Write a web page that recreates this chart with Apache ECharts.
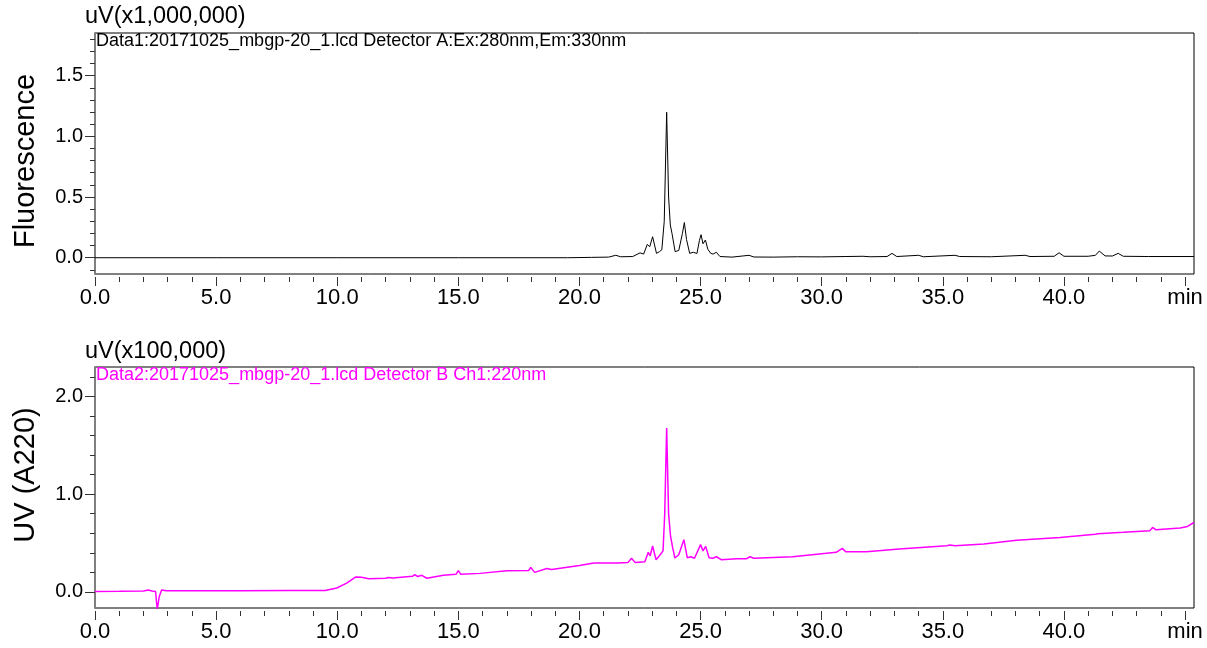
<!DOCTYPE html>
<html>
<head>
<meta charset="utf-8">
<title>Chromatogram 20171025_mbgp-20_1</title>
<script src="https://cdn.jsdelivr.net/npm/echarts@6/dist/echarts.min.js"></script>
<style>
  html, body { margin: 0; padding: 0; background: #fff; }
  #chart { width: 1207px; height: 648px; }
</style>
</head>
<body>
<div id="chart"></div>
<script>
// Retention time axis (min)
const timeMax = 45.37;
const xTickValues = [0, 5, 10, 15, 20, 25, 30, 35, 40, 45];
const xTickLabels = ['0.0', '5.0', '10.0', '15.0', '20.0', '25.0', '30.0', '35.0', '40.0', 'min'];

// Detector A: fluorescence (Ex 280 nm / Em 330 nm), uV x 1,000,000
const fluoTime = [
  0, 5, 10, 15, 19.5, 20.5, 21.2, 21.5, 21.7, 22.2, 22.5, 22.65, 22.8, 22.9, 23.02,
  23.18, 23.3, 23.4, 23.5, 23.6, 23.68, 23.75, 23.82, 23.95, 24.1, 24.25, 24.33, 24.42,
  24.55, 24.7, 24.85, 24.95, 25.02, 25.1, 25.2, 25.3, 25.42, 25.52, 25.65, 25.8, 26.3,
  27.0, 27.2, 28.0, 29.0, 30.0, 31.0, 31.7, 32.0, 32.7, 32.9, 33.1, 34.0, 34.2, 35.5,
  35.7, 37.0, 38.4, 38.6, 39.6, 39.8, 40.0, 41.0, 41.3, 41.46, 41.7, 42.0, 42.24,
  42.45, 43.5, 45.37
];
const fluoValue = [
  0.0, 0.0, 0.0, 0.0, 0.0, 0.003, 0.005, 0.02, 0.008, 0.01, 0.04, 0.03, 0.11, 0.09, 0.173,
  0.036, 0.05, 0.065, 0.3, 1.198, 0.5, 0.27, 0.2, 0.05, 0.06, 0.2, 0.29, 0.15,
  0.036, 0.045, 0.035, 0.14, 0.19, 0.115, 0.146, 0.07, 0.036, 0.03, 0.045, 0.01, 0.005,
  0.02, 0.006, 0.005, 0.008, 0.007, 0.01, 0.012, 0.008, 0.01, 0.036, 0.01, 0.02, 0.008, 0.02,
  0.01, 0.008, 0.02, 0.01, 0.012, 0.041, 0.012, 0.012, 0.02, 0.055, 0.015, 0.014, 0.036,
  0.012, 0.01, 0.01
];
const fluoYMin = -0.134;
const fluoYMax = 1.851;
const fluoMajor = [0, 0.5, 1.0, 1.5];
const fluoMinor = [-0.1, 0.1, 0.2, 0.3, 0.4, 0.6, 0.7, 0.8, 0.9, 1.1, 1.2, 1.3, 1.4, 1.6, 1.7, 1.8];

// Detector B Ch1: UV absorbance at 220 nm, uV x 100,000
const uvTime = [
  0, 1.0, 2.0, 2.2, 2.35, 2.5, 2.57, 2.65, 2.75, 2.82, 2.95, 4.0, 6.0, 8.0, 9.5, 9.98,
  10.39, 10.77, 11.0, 11.3, 12.0, 12.1, 12.3, 13.1, 13.2, 13.32, 13.49, 13.7, 14.38,
  14.9, 15.0, 15.1, 15.9, 17.0, 17.9, 17.99, 18.15, 18.65, 18.85, 20.0, 20.6, 21.4,
  21.45, 21.6, 22.0, 22.15, 22.3, 22.7, 22.84, 22.92, 23.02, 23.16, 23.3, 23.45, 23.52,
  23.6, 23.68, 23.76, 23.85, 23.94, 24.1, 24.31, 24.45, 24.6, 24.75, 25.0, 25.1, 25.21,
  25.35, 25.5, 25.66, 25.85, 26.5, 26.9, 27.04, 27.2, 28.8, 30.6, 30.85, 31.0, 31.85,
  33.2, 35.16, 35.3, 35.5, 36.7, 38.05, 39.84, 41.3, 41.4, 42.45, 43.55, 43.66, 43.8,
  44.8, 45.1, 45.37
];
const uvValue = [
  0.005, 0.006, 0.01, 0.02, 0.01, 0.005, -0.18, -0.05, 0.02, 0.034, 0.012, 0.012, 0.012, 0.015, 0.015, 0.04,
  0.09, 0.153, 0.15, 0.136, 0.14, 0.148, 0.142, 0.16, 0.177, 0.158, 0.17, 0.14, 0.17,
  0.18, 0.218, 0.18, 0.19, 0.218, 0.22, 0.25, 0.2, 0.24, 0.23, 0.27, 0.296, 0.296,
  0.305, 0.296, 0.3, 0.344, 0.3, 0.31, 0.405, 0.37, 0.47, 0.33, 0.37, 0.42, 0.8,
  1.677, 0.8, 0.57, 0.45, 0.347, 0.38, 0.535, 0.35, 0.36, 0.345, 0.484, 0.42, 0.466,
  0.35, 0.345, 0.36, 0.33, 0.34, 0.34, 0.36, 0.345, 0.36, 0.405, 0.446, 0.41, 0.41,
  0.44, 0.473, 0.48, 0.473, 0.49, 0.528, 0.558, 0.589, 0.595, 0.61, 0.627, 0.66, 0.635,
  0.654, 0.67, 0.71
];
const uvYMin = -0.164;
const uvYMax = 2.30;
const uvMajor = [0, 1.0, 2.0];
const uvMinor = [0.2, 0.4, 0.6, 0.8, 1.2, 1.4, 1.6, 1.8, 2.2];

// Minor time ticks every minute between the labelled ones
const xMinorValues = [];
for (let m = 1; m < 45; m++) if (m % 5 !== 0) xMinorValues.push(m);

const FONT = "'Liberation Sans', Arial, sans-serif";
const MAGENTA = '#ff00ff';

function pairs(xs, ys) { return xs.map((x, i) => [x, ys[i]]); }

function timeAxes(gridIndex) {
  return [
    {
      gridIndex, type: 'value', position: 'bottom', min: 0, max: timeMax, offset: 3,
      axisLine: { show: false, onZero: false }, splitLine: { show: false },
      axisTick: { show: true, customValues: xTickValues, length: 9, lineStyle: { color: '#333', width: 1 } },
      axisLabel: {
        customValues: xTickValues, margin: 10, fontSize: 22, color: '#000', fontFamily: FONT,
        formatter: v => xTickLabels[xTickValues.indexOf(v)] ?? ''
      }
    },
    {
      gridIndex, type: 'value', position: 'bottom', min: 0, max: timeMax, offset: 3,
      axisLine: { show: false, onZero: false }, splitLine: { show: false },
      axisTick: { show: true, customValues: xMinorValues, length: 5, lineStyle: { color: '#333', width: 1 } },
      axisLabel: { show: false }
    }
  ];
}

function valueAxes(gridIndex, min, max, major, minor, name, namePadding) {
  return [
    {
      gridIndex, type: 'value', position: 'left', min, max,
      name, nameLocation: 'middle', nameGap: 55,
      nameTextStyle: { fontSize: 29, color: '#000', fontFamily: FONT, padding: namePadding },
      axisLine: { show: true, onZero: false, lineStyle: { color: '#7f7f7f', width: 2 } },
      splitLine: { show: false },
      axisTick: { show: true, customValues: major, length: 10, lineStyle: { color: '#333', width: 1 } },
      axisLabel: {
        customValues: major, margin: 12, fontSize: 20, color: '#000', fontFamily: FONT,
        formatter: v => v.toFixed(1)
      }
    },
    {
      gridIndex, type: 'value', position: 'left', min, max,
      axisLine: { show: false, onZero: false }, splitLine: { show: false },
      axisTick: { show: true, customValues: minor, length: 5, lineStyle: { color: '#333', width: 1 } },
      axisLabel: { show: false }
    }
  ];
}

const chart = echarts.init(document.getElementById('chart'), null, { renderer: 'canvas' });

chart.setOption({
  backgroundColor: '#fff',
  animation: false,
  title: [
    { text: 'uV(x1,000,000)', left: 85, top: 5, padding: 0,
      textStyle: { fontSize: 23.5, fontWeight: 'normal', color: '#000', fontFamily: FONT } },
    { text: 'Data1:20171025_mbgp-20_1.lcd Detector A:Ex:280nm,Em:330nm', left: 96, top: 32, padding: 0,
      textStyle: { fontSize: 18, fontWeight: 'normal', color: '#000', fontFamily: FONT } },
    { text: 'uV(x100,000)', left: 85, top: 340, padding: 0,
      textStyle: { fontSize: 23.5, fontWeight: 'normal', color: '#000', fontFamily: FONT } },
    { text: 'Data2:20171025_mbgp-20_1.lcd Detector B Ch1:220nm', left: 96, top: 366, padding: 0,
      textStyle: { fontSize: 18, fontWeight: 'normal', color: MAGENTA, fontFamily: FONT } }
  ],
  grid: [
    { left: 95, right: 13, top: 33, height: 241, show: true, borderColor: '#000', borderWidth: 1, backgroundColor: 'transparent' },
    { left: 95, right: 13, top: 367, height: 241, show: true, borderColor: '#000', borderWidth: 1, backgroundColor: 'transparent' }
  ],
  xAxis: [...timeAxes(0), ...timeAxes(1)],
  yAxis: [
    ...valueAxes(0, fluoYMin, fluoYMax, fluoMajor, fluoMinor, 'Fluorescence', [0, 15, 0, 0]),
    ...valueAxes(1, uvYMin, uvYMax, uvMajor, uvMinor, 'UV (A220)', [0, 0, 0, 25])
  ],
  series: [
    {
      name: 'Detector A', type: 'line', xAxisIndex: 0, yAxisIndex: 0,
      data: pairs(fluoTime, fluoValue), showSymbol: false, symbol: 'none',
      lineStyle: { color: '#000', width: 1 }, silent: true
    },
    {
      name: 'Detector B Ch1', type: 'line', xAxisIndex: 2, yAxisIndex: 2,
      data: pairs(uvTime, uvValue), showSymbol: false, symbol: 'none',
      lineStyle: { color: MAGENTA, width: 1.5 }, silent: true
    }
  ]
});
</script>
</body>
</html>
